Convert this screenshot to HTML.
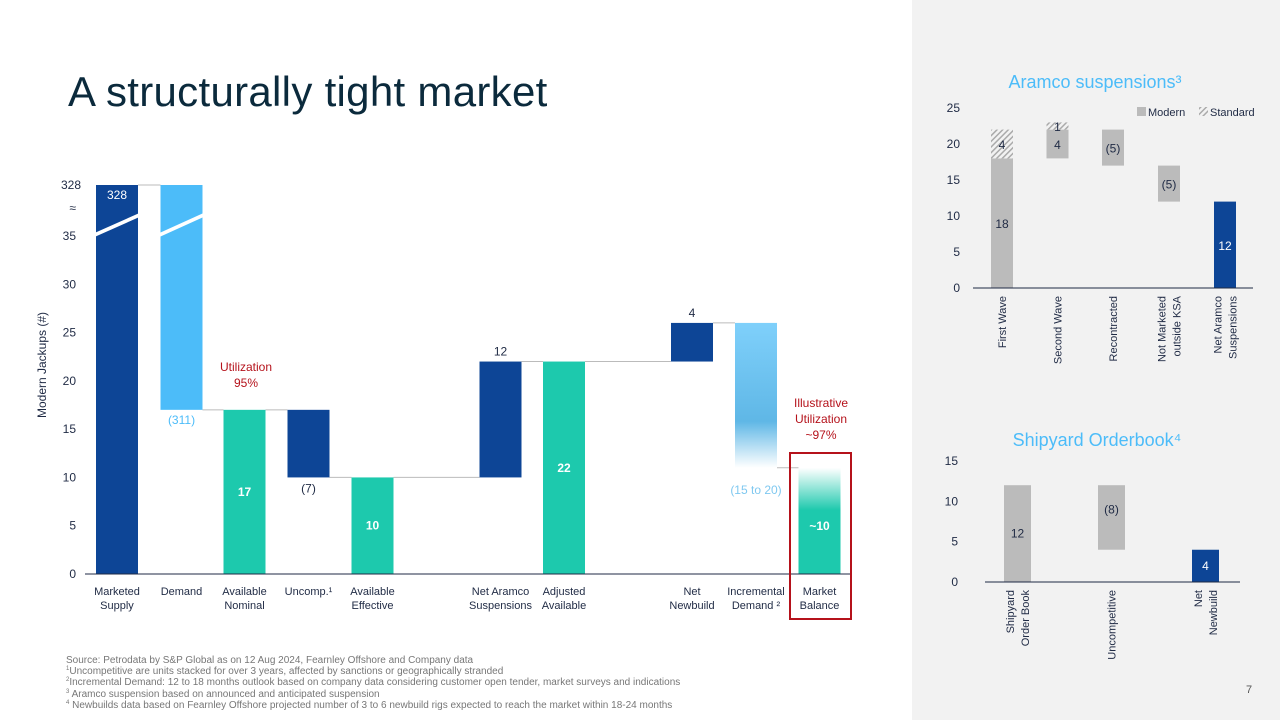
<!DOCTYPE html>
<html><head><meta charset="utf-8"><style>
body{margin:0;width:1280px;height:720px;overflow:hidden;background:#fff;font-family:"Liberation Sans",sans-serif;position:relative}
#side{position:absolute;left:912px;top:0;width:368px;height:720px;background:#f2f2f2}
h1{position:absolute;left:68px;top:68px;margin:0;font-weight:400;font-size:42px;color:#0b2a3c;letter-spacing:0.3px}
svg{position:absolute;left:0;top:0}
.fn{position:absolute;left:66px;top:655px;font-size:10px;color:#777;line-height:11.2px;white-space:nowrap}
.fn sup{font-size:6px;line-height:0;vertical-align:4px}
</style></head><body>
<div id="side"></div>
<h1>A structurally tight market</h1>
<svg id="c" width="1280" height="720">
<defs>
<linearGradient id="gInc" x1="0" y1="0" x2="0" y2="1"><stop offset="0" stop-color="#7fd0fb"/><stop offset="0.68" stop-color="#5fb7e6"/><stop offset="1" stop-color="#fff"/></linearGradient>
<linearGradient id="gMb" x1="0" y1="0" x2="0" y2="1"><stop offset="0" stop-color="#fff"/><stop offset="0.4" stop-color="#1dc9ad"/><stop offset="1" stop-color="#1dc9ad"/></linearGradient>
<pattern id="hatch" width="4" height="4" patternUnits="userSpaceOnUse" patternTransform="rotate(45)"><rect width="4" height="4" fill="#f2f2f2"/><rect width="1.5" height="4" fill="#aaa"/></pattern>
</defs>
</svg>
<div class="fn">Source: Petrodata by S&amp;P Global as on 12 Aug 2024, Fearnley Offshore and Company data<br><sup>1</sup>Uncompetitive are units stacked for over 3 years, affected by sanctions or geographically stranded<br><sup>2</sup>Incremental Demand: 12 to 18 months outlook based on company data considering customer open tender, market surveys and indications<br><sup>3</sup> Aramco suspension based on announced and anticipated suspension<br><sup>4</sup> Newbuilds data based on Fearnley Offshore projected number of 3 to 6 newbuild rigs expected to reach the market within 18-24 months</div>
<div style="position:absolute;left:1246px;top:684px;font-size:11px;color:#555">7</div>
<script>
// Main waterfall
const cats=["Marketed\nSupply","Demand","Available\nNominal","Uncomp.¹","Available\nEffective","Net Aramco\nSuspensions","Adjusted\nAvailable","Net\nNewbuild","Incremental\nDemand ²","Market\nBalance"];
const lows=[0,17,0,10,0,10,0,22,11,0];
const highs=[328,328,17,17,10,22,22,26,26,11];
const labels=["328","(311)","17","(7)","10","12","22","4","(15 to 20)","~10"];
const yTicks=[0,5,10,15,20,25,30,35];
// Aramco
const aCats=["First Wave","Second Wave","Recontracted","Not Marketed\noutside KSA","Net Aramco\nSuspensions"];
const aLow=[0,18,17,12,0];
const aModern=[18,4,5,5,12];
const aStd=[4,1,0,0,0];
const aLabels=["18","4","(5)","(5)","12"];
const aTicks=[0,5,10,15,20,25];
// Shipyard
const sCats=["Shipyard\nOrder Book","Uncompetitive","Net\nNewbuild"];
const sLow=[0,4,0];
const sHigh=[12,12,4];
const sLabels=["12","(8)","4"];
const sTicks=[0,5,10,15];

const svg=document.getElementById('c');const NS="http://www.w3.org/2000/svg";
function el(t,a,txt){const e=document.createElementNS(NS,t);for(const k in a)e.setAttribute(k,a[k]);if(txt!==undefined)e.textContent=txt;svg.appendChild(e);return e;}
const y=v=>v>35?185:574-v*338/35;
const xs=[117,181.5,244.5,308.5,372.5,500.5,564,692,756,819.5];const bw=42;
const fills=["#0d4596","#4cbcf9","#1dc9ad","#0d4596","#1dc9ad","#0d4596","#1dc9ad","#0d4596","url(#gInc)","url(#gMb)"];
yTicks.forEach(t=>{const e=el('text',{x:76,y:y(t)+4,'text-anchor':'end','font-size':12,fill:'#1f2a44'},t);
});
let e0=el('text',{x:81,y:189,'text-anchor':'end','font-size':12,fill:'#1f2a44'},'328');

el('text',{x:76,y:212,'text-anchor':'end','font-size':12,fill:'#1f2a44'},'≈');
let yt=el('text',{x:46,y:365,'text-anchor':'middle','font-size':12,fill:'#1f2a44',transform:'rotate(-90 46 365)'},'Modern Jackups (#)');

const conn=[[0,1,328],[1,2,17],[2,3,17],[3,4,10],[4,5,10],[5,6,22],[6,7,22],[7,8,26],[8,9,11]];
conn.forEach(c=>el('line',{x1:xs[c[0]]+bw/2,x2:xs[c[1]]-bw/2,y1:y(c[2]),y2:y(c[2]),stroke:'#bbb','stroke-width':1}));
cats.forEach((c,i)=>{
 const r=el('rect',{x:xs[i]-bw/2,y:y(highs[i]),width:bw,height:y(lows[i])-y(highs[i]),fill:fills[i]});
 
 c.split('\n').forEach((l,j)=>el('text',{x:xs[i],y:595+j*14,'text-anchor':'middle','font-size':11,fill:'#1f2a44'},l));
 let lx=xs[i],ly,col,fw=400;
 if(i==0){ly=y(highs[i])+14;col='#fff';}
 else if(i==1){ly=y(lows[i])+14;col='#4cbcf9';}
 else if(i==3){ly=y(lows[i])+15;col='#1f2a44';}
 else if(i==8){ly=y(lows[i])+26;col='#7fc8f0';}
 else if(fills[i]=="#0d4596"){ly=y(highs[i])-6;col='#1f2a44';}
 else {ly=(y(lows[i])+y(highs[i]))/2+4+(i==9?5:0);col='#fff';fw=700;}
 const t=el('text',{x:lx,y:ly,'text-anchor':'middle','font-size':12,fill:col,'font-weight':fw},labels[i]);
 
});
[[96,138],[161,202]].forEach(b=>el('polygon',{points:`${b[0]-6},235 ${b[1]+6},211 ${b[1]+6},215 ${b[0]-6},239`,fill:'#fff'}));
el('line',{x1:85,x2:850,y1:574,y2:574,stroke:'#1f2a44','stroke-width':1});
el('text',{x:246,y:371,'text-anchor':'middle','font-size':12,fill:'#b5121b'},'Utilization');
el('text',{x:246,y:387,'text-anchor':'middle','font-size':12,fill:'#b5121b'},'95%');
['Illustrative','Utilization','~97%'].forEach((l,j)=>el('text',{x:821,y:407+j*16,'text-anchor':'middle','font-size':12,fill:'#b5121b'},l));
let hb=el('rect',{x:790,y:453,width:61,height:166,fill:'none',stroke:'#b5121b','stroke-width':2});


// Aramco chart
const ay=v=>288-v*7.2;const ax=[1002,1057.5,1113,1169,1225];const aw=22;
el('text',{x:1095,y:88,'text-anchor':'middle','font-size':18,fill:'#4cbcf9'},'Aramco suspensions³');
aTicks.forEach(t=>el('text',{x:960,y:ay(t)+4,'text-anchor':'end','font-size':12,fill:'#1f2a44'},t));
el('rect',{x:1137,y:107,width:9,height:9,fill:'#bbb'});el('text',{x:1148,y:116,'font-size':11,fill:'#1f2a44'},'Modern');
el('rect',{x:1199,y:107,width:9,height:9,fill:'url(#hatch)'});el('text',{x:1210,y:116,'font-size':11,fill:'#1f2a44'},'Standard');
aCats.forEach((c,i)=>{
 const last=i==4;
 const r=el('rect',{x:ax[i]-aw/2,y:ay(aLow[i]+aModern[i]),width:aw,height:aModern[i]*7.2,fill:last?'#0d4596':'#bbb'});
 
 if(aStd[i]>0)el('rect',{x:ax[i]-aw/2,y:ay(aLow[i]+aModern[i]+aStd[i]),width:aw,height:aStd[i]*7.2,fill:'url(#hatch)'});
 if(aStd[i]>0)el('text',{x:ax[i],y:ay(aLow[i]+aModern[i]+aStd[i]/2)+5,'text-anchor':'middle','font-size':12,fill:'#1f2a44'},aStd[i]);
 el('text',{x:ax[i],y:ay(aLow[i]+aModern[i]/2)+5,'text-anchor':'middle','font-size':12,fill:last?'#fff':'#1f2a44'},aLabels[i]);
 const ls=c.split('\n');ls.forEach((l,j)=>{const xx=ax[i]+4+(j-(ls.length-1)/2)*15;el('text',{x:xx,y:296,'text-anchor':'end','font-size':11,fill:'#1f2a44',transform:`rotate(-90 ${xx} 296)`},l);});
});
el('line',{x1:973,x2:1253,y1:288,y2:288,stroke:'#1f2a44'});

// Shipyard chart
const sy=v=>582-v*121/15;const sx=[1017.5,1111.5,1205.5];const sw=27;
el('text',{x:1097,y:446,'text-anchor':'middle','font-size':18,fill:'#4cbcf9'},'Shipyard Orderbook⁴');
sTicks.forEach(t=>el('text',{x:958,y:sy(t)+4,'text-anchor':'end','font-size':12,fill:'#1f2a44'},t));
sCats.forEach((c,i)=>{
 const last=i==2;
 const r=el('rect',{x:sx[i]-sw/2,y:sy(sHigh[i]),width:sw,height:sy(sLow[i])-sy(sHigh[i]),fill:last?'#0d4596':'#bbb'});
 
 el('text',{x:sx[i],y:(sy(sLow[i])+sy(sHigh[i]))/2+(i==1?-4:4),'text-anchor':'middle','font-size':12,fill:last?'#fff':'#1f2a44'},sLabels[i]);
 const ls=c.split('\n');ls.forEach((l,j)=>{const xx=sx[i]+4+(j-(ls.length-1)/2)*15;el('text',{x:xx,y:590,'text-anchor':'end','font-size':11,fill:'#1f2a44',transform:`rotate(-90 ${xx} 590)`},l);});
});
el('line',{x1:985,x2:1240,y1:582,y2:582,stroke:'#1f2a44'});
</script>
</body></html>
